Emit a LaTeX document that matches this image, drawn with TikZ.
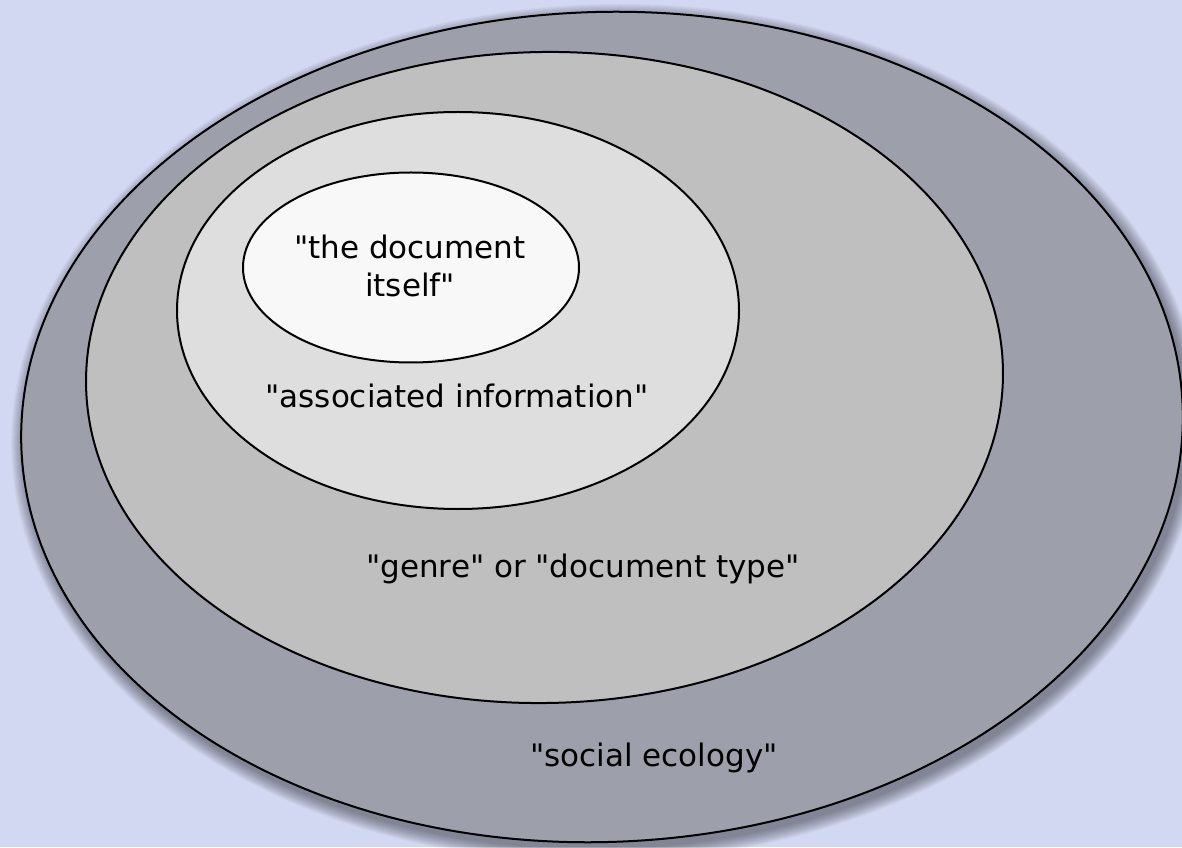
\documentclass[tikz,border=0pt]{standalone}
\usepackage{fontspec}
\setmainfont[Ligatures=TeXOff]{DejaVu Sans}
\newcommand{\dq}{\char34\relax}
\definecolor{bgc}{RGB}{211,216,242}
\definecolor{outerc}{RGB}{157,159,171}
\definecolor{genrec}{RGB}{191,191,191}
\definecolor{assocc}{RGB}{222,222,222}
\definecolor{docc}{RGB}{248,248,248}
\tikzset{
  ring/.style={draw=black, line width=2pt},
  lbl/.style={font=\fontsize{31}{38}\selectfont, text=black, anchor=base, inner sep=0pt}
}
\begin{document}
\begin{tikzpicture}[x=1pt,y=1pt]
\useasboundingbox (0,0) rectangle (1182,847);
\fill[bgc] (0,0) rectangle (1182,847);
% soft shadow of outer ellipse
\foreach \i in {0,...,13}{
  \fill[black, opacity=0.03, rotate around={2:(606,414)}] (606,414) ellipse [x radius={581+14-\i}, y radius={415+14-\i}];
}
% outer: social ecology
\filldraw[ring, fill=outerc, rotate around={2:(602,420)}] (602,420) ellipse [x radius=581, y radius=415];
% genre
\filldraw[ring, fill=genrec, rotate around={1:(544.5,469.5)}] (544.5,469.5) ellipse [x radius=458.5, y radius=325.5];
% associated information
\filldraw[ring, fill=assocc] (458,536.5) ellipse [x radius=281, y radius=198.5];
% the document itself
\filldraw[ring, fill=docc] (411,579.5) ellipse [x radius=168, y radius=95];
% labels
\node[lbl] (docA) at (410,588) {\dq the document};
\node[lbl] (docB) at (410,550) {itself\dq};
\node[lbl] (assoc) at (457,439) {\dq associated information\dq};
\node[lbl] (genre) at (583,270) {\dq genre\dq{} or \dq document type\dq};
\node[lbl] (social) at (654,81) {\dq social ecology\dq};
\end{tikzpicture}
\end{document}
